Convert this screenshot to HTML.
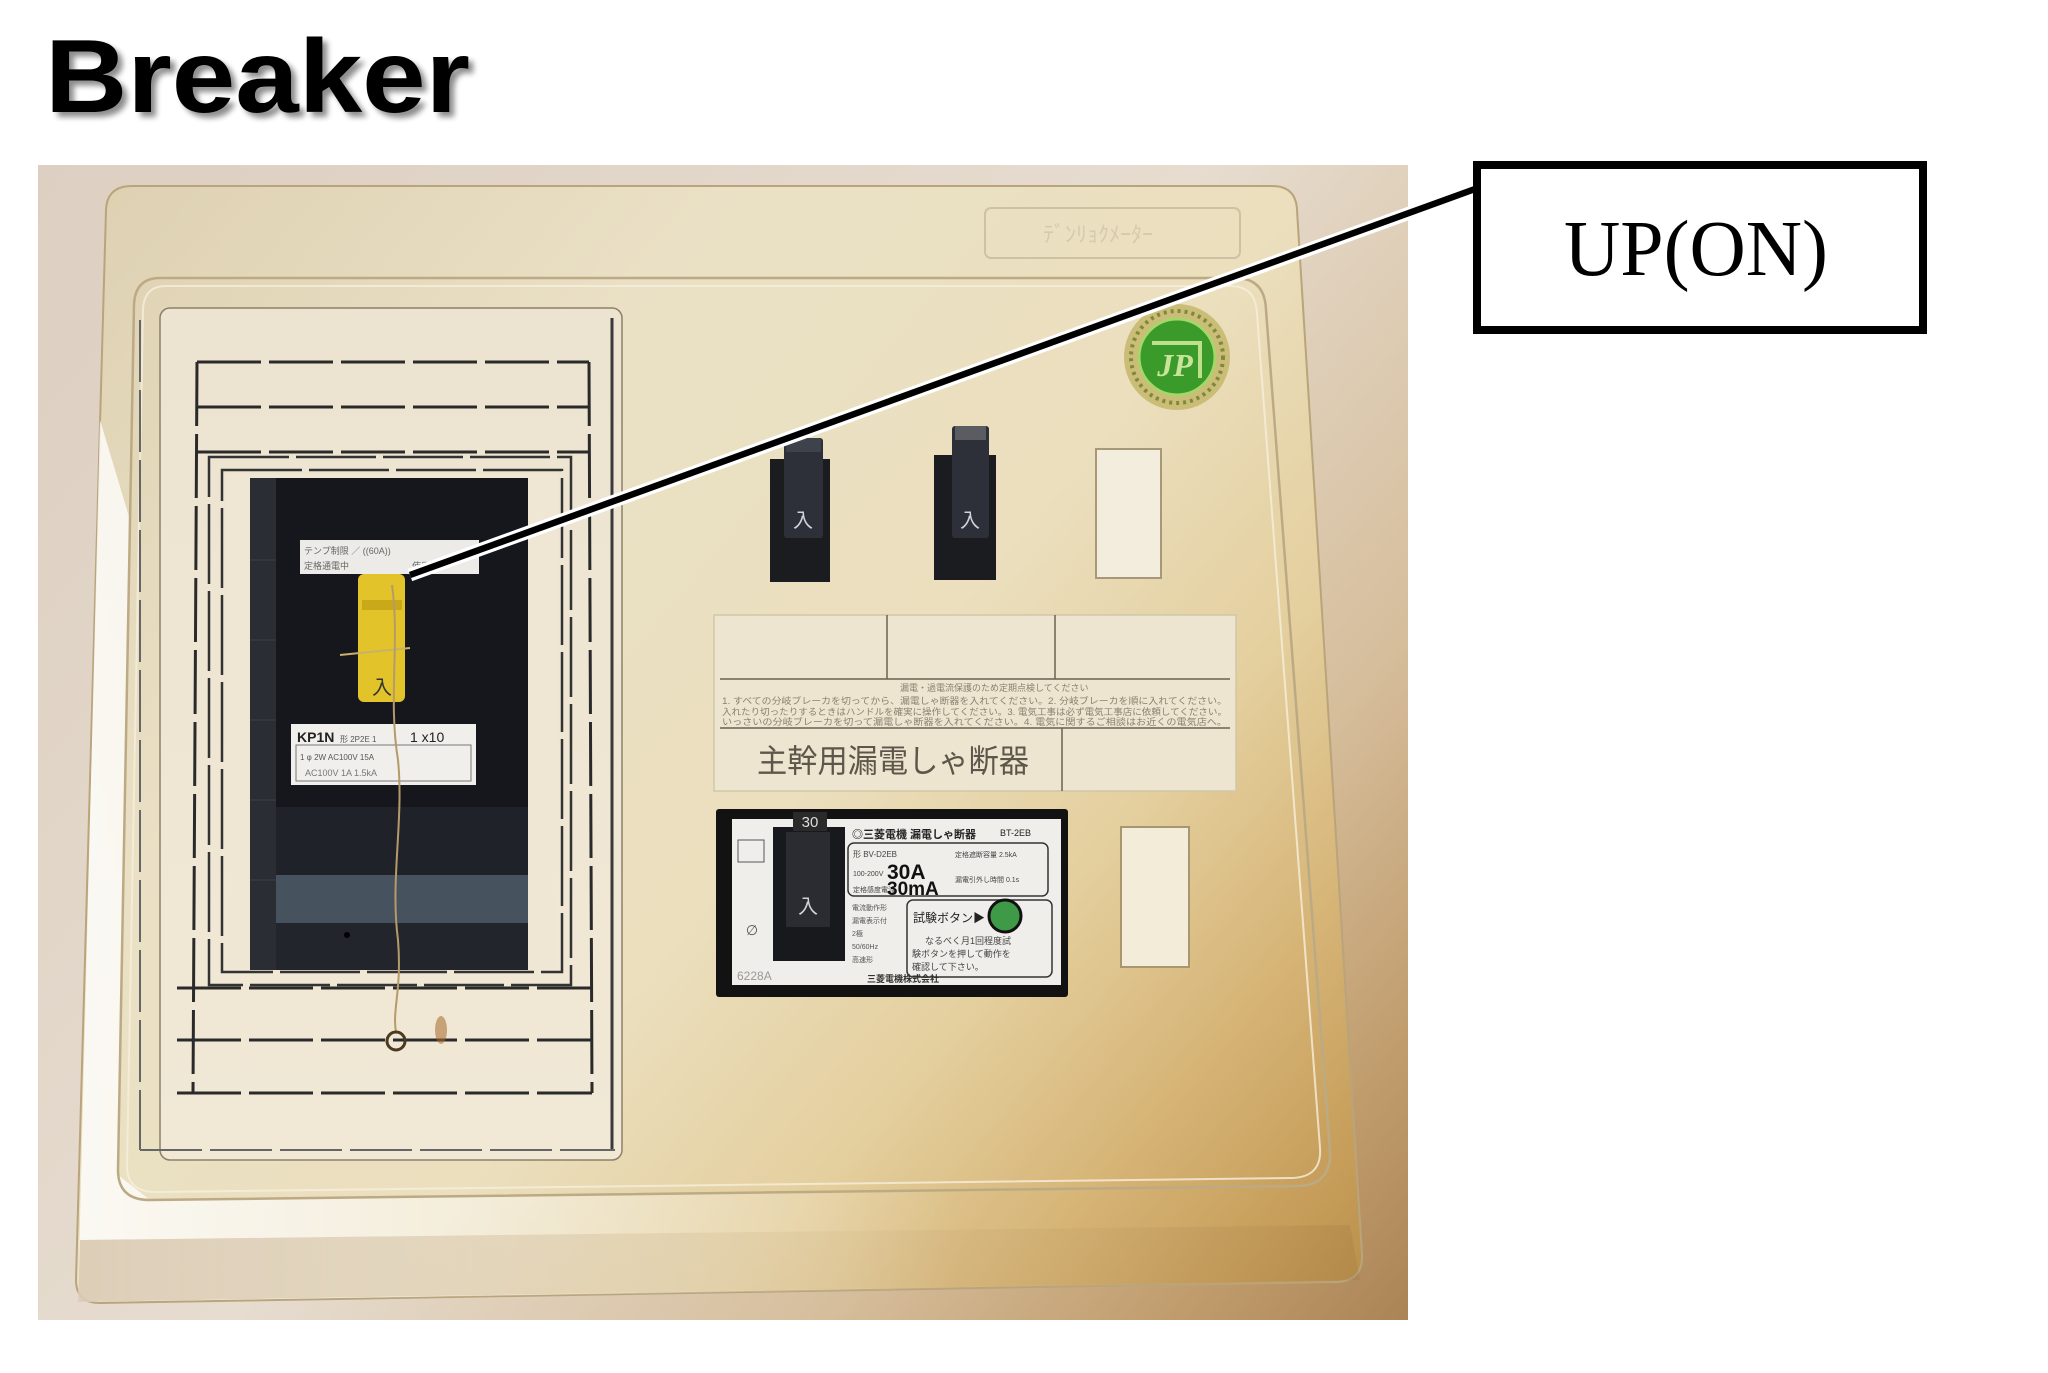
<!DOCTYPE html>
<html><head><meta charset="utf-8">
<style>
html,body{margin:0;padding:0;background:#fff;width:2048px;height:1373px;overflow:hidden;}
svg{display:block;}
</style></head>
<body>
<svg xmlns="http://www.w3.org/2000/svg" width="2048" height="1373" viewBox="0 0 2048 1373">
<defs>
 <linearGradient id="wall" gradientUnits="userSpaceOnUse" x1="38" y1="165" x2="1408" y2="1320">
  <stop offset="0" stop-color="#ddcfc1"/>
  <stop offset="0.5" stop-color="#e6dccf"/>
  <stop offset="0.75" stop-color="#d6be9c"/>
  <stop offset="0.9" stop-color="#c09c6c"/>
  <stop offset="1" stop-color="#ab8456"/>
 </linearGradient>
 <linearGradient id="panel" gradientUnits="userSpaceOnUse" x1="38" y1="165" x2="1408" y2="1320">
  <stop offset="0" stop-color="#ddcfb0"/>
  <stop offset="0.3" stop-color="#eae0c5"/>
  <stop offset="0.55" stop-color="#ebdfbe"/>
  <stop offset="0.7" stop-color="#e4cf9e"/>
  <stop offset="0.82" stop-color="#d6b476"/>
  <stop offset="0.92" stop-color="#c59c58"/>
  <stop offset="1" stop-color="#b38746"/>
 </linearGradient>
 <linearGradient id="bevel" x1="0" y1="0" x2="1" y2="0">
  <stop offset="0" stop-color="#fff" stop-opacity="0.8"/>
  <stop offset="0.35" stop-color="#fff" stop-opacity="0.4"/>
  <stop offset="0.7" stop-color="#fff" stop-opacity="0"/>
 </linearGradient>
 <linearGradient id="band" x1="0" y1="0" x2="1" y2="0">
  <stop offset="0" stop-color="#b89a70" stop-opacity="0.45"/>
  <stop offset="0.6" stop-color="#b89a70" stop-opacity="0.1"/>
  <stop offset="1" stop-color="#8a6030" stop-opacity="0.15"/>
 </linearGradient>
 <linearGradient id="plate" x1="0" y1="0" x2="0" y2="1">
  <stop offset="0" stop-color="#ece4d0"/>
  <stop offset="1" stop-color="#f1e9d6"/>
 </linearGradient>
 <filter id="sh" x="-10%" y="-20%" width="130%" height="160%">
  <feGaussianBlur in="SourceAlpha" stdDeviation="3"/>
  <feOffset dx="5" dy="5"/>
  <feComponentTransfer><feFuncA type="linear" slope="0.45"/></feComponentTransfer>
  <feMerge><feMergeNode/><feMergeNode in="SourceGraphic"/></feMerge>
 </filter>
 <clipPath id="ph"><rect x="38" y="165" width="1370" height="1155"/></clipPath>
</defs>

<rect x="0" y="0" width="2048" height="1373" fill="#fff"/>

<!-- Title -->
<text x="45" y="112" font-family="'Liberation Sans', Arial, sans-serif" font-weight="bold" font-size="104" textLength="425" lengthAdjust="spacingAndGlyphs" fill="#000" filter="url(#sh)">Breaker</text>

<!-- Photo -->
<g clip-path="url(#ph)">
 <rect x="38" y="165" width="1370" height="1155" fill="url(#wall)"/>
 <!-- outer panel -->
 <path d="M132 186 L1272 186 Q1296 186 1297 210 L1362 1255 Q1363 1281 1336 1282 L100 1303 Q76 1303 76 1280 L106 210 Q107 186 132 186 Z" fill="url(#panel)" stroke="#b9a47c" stroke-width="2"/>
 <!-- bevel highlight -->
 <polygon points="100,420 130,520 118,1175 150,1200 1300,1186 1340,1283 78,1302" fill="url(#bevel)"/>
 <polygon points="80,1240 1350,1225 1360,1280 78,1302" fill="url(#band)"/>
 <!-- top label plate -->
 <rect x="985" y="208" width="255" height="50" rx="6" fill="none" stroke="#cfc2a4" stroke-width="2"/>
 <text x="1043" y="242" font-family="'Liberation Sans','Noto Sans CJK JP',sans-serif" font-size="22" fill="#d6caae">ﾃﾞﾝﾘｮｸﾒｰﾀｰ</text>
 <!-- inner panel -->
 <path d="M160 278 L1235 278 Q1265 278 1266 310 L1330 1150 Q1332 1185 1298 1186 L150 1200 Q118 1200 118 1170 L134 305 Q135 278 160 278 Z" fill="none" stroke="#bcaa84" stroke-width="2.5"/>
 <path d="M166 286 L1230 286 Q1256 286 1257 314 L1320 1148 Q1322 1177 1292 1178 L156 1192 Q127 1192 127 1166 L143 310 Q144 286 166 286 Z" fill="none" stroke="#f6efdc" stroke-width="2" opacity="0.8"/>

 <!-- left cover plate -->
 <rect x="160" y="308" width="462" height="852" rx="10" fill="url(#plate)" stroke="#8c8068" stroke-width="1.5"/>
 <line x1="612" y1="318" x2="612" y2="1150" stroke="#3a3a3a" stroke-width="3"/>
 <g stroke="#666" stroke-width="2" stroke-dasharray="62 8" fill="none">
  <line x1="140" y1="320" x2="140" y2="1150"/>
  <line x1="140" y1="1150" x2="615" y2="1150"/>
 </g>
 <g stroke="#2a2a2a" stroke-width="3" stroke-dasharray="64 8" fill="none">
  <line x1="197" y1="362" x2="589" y2="362"/>
  <line x1="197" y1="407" x2="589" y2="407"/>
  <line x1="197" y1="452" x2="589" y2="452"/>
  <line x1="197" y1="362" x2="193" y2="1093"/>
  <line x1="589" y1="362" x2="592" y2="1093"/>
  <line x1="177" y1="988" x2="592" y2="988"/>
  <line x1="177" y1="1040" x2="592" y2="1040"/>
  <line x1="177" y1="1093" x2="592" y2="1093"/>
 </g>
 <g stroke="#333" stroke-width="2.5" stroke-dasharray="80 7" fill="none">
  <rect x="209" y="457" width="362" height="528"/>
  <rect x="222" y="470" width="340" height="502"/>
 </g>
 <rect x="226" y="474" width="332" height="494" fill="#efe7d3"/>

 <!-- dark window -->
 <rect x="250" y="478" width="278" height="492" fill="#15171d"/>
 <rect x="250" y="478" width="26" height="492" fill="#2a2d34"/>
 <g stroke="#3b3f47" stroke-width="1">
  <line x1="250" y1="560" x2="276" y2="560"/>
  <line x1="250" y1="640" x2="276" y2="640"/>
  <line x1="250" y1="720" x2="276" y2="720"/>
  <line x1="250" y1="800" x2="276" y2="800"/>
  <line x1="250" y1="880" x2="276" y2="880"/>
 </g>
 <rect x="276" y="807" width="252" height="68" fill="#1f2228"/>
 <rect x="276" y="875" width="252" height="48" fill="#46525e"/>
 <rect x="276" y="923" width="252" height="47" fill="#22262c"/>
 <circle cx="347" cy="935" r="3" fill="#000"/>
 <!-- white label 1 -->
 <rect x="300" y="540" width="179" height="34" fill="#ecebe8"/>
 <text x="304" y="554" font-family="'Liberation Sans','Noto Sans CJK JP',sans-serif" font-size="9" fill="#666">テンプ制限 ／ ((60A))</text>
 <text x="304" y="569" font-family="'Liberation Sans','Noto Sans CJK JP',sans-serif" font-size="9" fill="#666">定格通電中　　　　　　　使用</text>
 <!-- yellow tag -->
 <rect x="358" y="574" width="47" height="128" rx="6" fill="#e2c42a"/>
 <rect x="362" y="600" width="40" height="10" fill="#c9a81a"/>
 <text x="382" y="694" font-family="'Liberation Sans','Noto Sans CJK JP',sans-serif" font-size="20" fill="#333" text-anchor="middle">入</text>
 <path d="M340 655 L410 648" stroke="#c8b070" stroke-width="2"/>
 <!-- white label 2 -->
 <rect x="291" y="724" width="185" height="61" fill="#f0efec"/>
 <rect x="296" y="745" width="175" height="36" fill="none" stroke="#777" stroke-width="1"/>
 <text x="297" y="742" font-family="'Liberation Sans',sans-serif" font-size="14" font-weight="bold" fill="#222">KP1N</text>
 <text x="340" y="742" font-family="'Liberation Sans',sans-serif" font-size="8" fill="#555">形 2P2E 1</text>
 <text x="410" y="742" font-family="'Liberation Sans',sans-serif" font-size="14" fill="#222">1 x10</text>
 <text x="300" y="760" font-family="'Liberation Sans',sans-serif" font-size="8" fill="#555">1 φ 2W  AC100V   15A</text>
 <text x="305" y="776" font-family="'Liberation Sans',sans-serif" font-size="9" fill="#777">AC100V    1A  1.5kA</text>
 <!-- string & ring -->
 <path d="M392 585 C400 640 388 700 398 760 C404 820 390 880 398 940 C402 990 392 1010 396 1032" fill="none" stroke="#b59a6a" stroke-width="2"/>
 <circle cx="396" cy="1041" r="9" fill="none" stroke="#4a3a20" stroke-width="3"/>
 <ellipse cx="441" cy="1030" rx="6" ry="14" fill="#a8682a" opacity="0.55"/>

 <!-- green sticker -->
 <circle cx="1177" cy="357" r="53" fill="#cbbd78"/>
 <circle cx="1177" cy="357" r="46" fill="none" stroke="#7d8a3a" stroke-width="4" stroke-dasharray="3 4"/>
 <circle cx="1177" cy="357" r="38" fill="#3a9a2a" stroke="#a6d66a" stroke-width="3"/>
 <path d="M1152 343 L1200 343 L1200 378" fill="none" stroke="#bfe08a" stroke-width="4"/>
 <text x="1175" y="376" font-family="'Liberation Serif',serif" font-size="32" font-weight="bold" font-style="italic" fill="#c8e49a" text-anchor="middle">JP</text>

 <!-- top switches -->
 <rect x="770" y="459" width="60" height="123" fill="#1b1c20"/>
 <rect x="784" y="438" width="39" height="100" rx="3" fill="#2d3038"/>
 <rect x="786" y="438" width="35" height="14" fill="#3e424b"/>
 <text x="803" y="527" font-family="'Liberation Sans','Noto Sans CJK JP',sans-serif" font-size="20" fill="#cfd3da" text-anchor="middle">入</text>
 <rect x="934" y="455" width="62" height="125" fill="#1b1c20"/>
 <rect x="952" y="426" width="37" height="112" rx="3" fill="#2d3038"/>
 <rect x="955" y="426" width="31" height="14" fill="#5a5c62"/>
 <text x="970" y="527" font-family="'Liberation Sans','Noto Sans CJK JP',sans-serif" font-size="20" fill="#cfd3da" text-anchor="middle">入</text>
 <rect x="1096" y="449" width="65" height="129" fill="#f3eddd" stroke="#a8987a" stroke-width="2"/>

 <!-- label area -->
 <rect x="714" y="615" width="522" height="176" fill="#ede5d0" stroke="#d2c6a8" stroke-width="1.5"/>
 <g stroke="#6a6050" stroke-width="1.5">
  <line x1="887" y1="615" x2="887" y2="679"/>
  <line x1="1055" y1="615" x2="1055" y2="679"/>
  <line x1="720" y1="679" x2="1230" y2="679"/>
  <line x1="720" y1="728" x2="1230" y2="728"/>
  <line x1="1062" y1="728" x2="1062" y2="791"/>
 </g>
 <g font-family="'Liberation Sans','Noto Sans CJK JP',sans-serif" font-size="9" fill="#8a8070">
  <text x="900" y="691">漏電・過電流保護のため定期点検してください</text>
  <text x="722" y="704" textLength="505" lengthAdjust="spacingAndGlyphs">1. すべての分岐ブレーカを切ってから、漏電しゃ断器を入れてください。2. 分岐ブレーカを順に入れてください。</text>
  <text x="722" y="715" textLength="505" lengthAdjust="spacingAndGlyphs">入れたり切ったりするときはハンドルを確実に操作してください。3. 電気工事は必ず電気工事店に依頼してください。</text>
  <text x="722" y="725" textLength="505" lengthAdjust="spacingAndGlyphs">いっさいの分岐ブレーカを切って漏電しゃ断器を入れてください。4. 電気に関するご相談はお近くの電気店へ。</text>
 </g>
 <text x="757" y="772" font-family="'Liberation Sans','Noto Sans CJK JP',sans-serif" font-size="32" fill="#5e564a" textLength="272" lengthAdjust="spacingAndGlyphs">主幹用漏電しゃ断器</text>

 <!-- lower breaker -->
 <rect x="716" y="809" width="352" height="188" rx="3" fill="#121212"/>
 <rect x="732" y="819" width="329" height="166" fill="#f0eeea"/>
 <rect x="773" y="827" width="72" height="134" fill="#18191c"/>
 <rect x="786" y="832" width="44" height="95" fill="#2a2c32"/>
 <rect x="793" y="812" width="34" height="19" fill="#2a2a2a"/>
 <text x="810" y="827" font-family="'Liberation Sans',sans-serif" font-size="15" fill="#ddd" text-anchor="middle">30</text>
 <text x="808" y="913" font-family="'Liberation Sans','Noto Sans CJK JP',sans-serif" font-size="20" fill="#cfd3da" text-anchor="middle">入</text>
 <rect x="738" y="840" width="26" height="22" fill="none" stroke="#555" stroke-width="1"/>
 <text x="752" y="935" font-family="'Liberation Sans',sans-serif" font-size="14" fill="#555" text-anchor="middle">∅</text>
 <text x="737" y="980" font-family="'Liberation Sans',sans-serif" font-size="12" fill="#999">6228A</text>
 <text x="852" y="838" font-family="'Liberation Sans','Noto Sans CJK JP',sans-serif" font-size="11" font-weight="bold" fill="#222">◎三菱電機 漏電しゃ断器</text>
 <text x="1000" y="836" font-family="'Liberation Sans',sans-serif" font-size="9" fill="#222">BT-2EB</text>
 <rect x="848" y="843" width="200" height="53" rx="6" fill="none" stroke="#333" stroke-width="1.5"/>
 <text x="853" y="857" font-family="'Liberation Sans',sans-serif" font-size="8" fill="#444">形 BV-D2EB</text>
 <text x="853" y="876" font-family="'Liberation Sans',sans-serif" font-size="7" fill="#444">100-200V</text>
 <text x="887" y="879" font-family="'Liberation Sans',sans-serif" font-size="21" font-weight="bold" fill="#111">30A</text>
 <text x="853" y="892" font-family="'Liberation Sans',sans-serif" font-size="7" fill="#444">定格感度電流</text>
 <text x="887" y="895" font-family="'Liberation Sans',sans-serif" font-size="19" font-weight="bold" fill="#111">30mA</text>
 <text x="955" y="857" font-family="'Liberation Sans','Noto Sans CJK JP',sans-serif" font-size="7" fill="#444">定格遮断容量 2.5kA</text>
 <text x="955" y="882" font-family="'Liberation Sans','Noto Sans CJK JP',sans-serif" font-size="7" fill="#444">漏電引外し時間 0.1s</text>
 <g font-family="'Liberation Sans','Noto Sans CJK JP',sans-serif" font-size="7" fill="#555">
  <text x="852" y="910">電流動作形</text>
  <text x="852" y="923">漏電表示付</text>
  <text x="852" y="936">2極</text>
  <text x="852" y="949">50/60Hz</text>
  <text x="852" y="962">高速形</text>
 </g>
 <text x="867" y="982" font-family="'Liberation Sans','Noto Sans CJK JP',sans-serif" font-size="9" font-weight="bold" fill="#333">三菱電機株式会社</text>
 <rect x="907" y="900" width="145" height="77" rx="6" fill="none" stroke="#333" stroke-width="1.5"/>
 <text x="913" y="922" font-family="'Liberation Sans','Noto Sans CJK JP',sans-serif" font-size="12" fill="#222">試験ボタン▶</text>
 <circle cx="1005" cy="916" r="16" fill="#3f9a48" stroke="#111" stroke-width="3"/>
 <g font-family="'Liberation Sans','Noto Sans CJK JP',sans-serif" font-size="9" fill="#444">
  <text x="925" y="944">なるべく月1回程度試</text>
  <text x="912" y="957">験ボタンを押して動作を</text>
  <text x="912" y="970">確認して下さい。</text>
 </g>
 <rect x="1121" y="827" width="68" height="140" fill="#f3ecd8" stroke="#a89670" stroke-width="2"/>
</g>

<!-- callout line -->
<line x1="410" y1="575" x2="1473" y2="190" stroke="#fff" stroke-width="13"/>
<line x1="410" y1="575" x2="1475" y2="189" stroke="#000" stroke-width="6.5"/>

<!-- callout box -->
<rect x="1477" y="165" width="446" height="165" fill="#fff" stroke="#000" stroke-width="8"/>
<text x="1696" y="275" font-family="'Liberation Serif','Times New Roman',serif" font-size="79" fill="#000" text-anchor="middle" textLength="264" lengthAdjust="spacingAndGlyphs">UP(ON)</text>
</svg>
</body></html>
